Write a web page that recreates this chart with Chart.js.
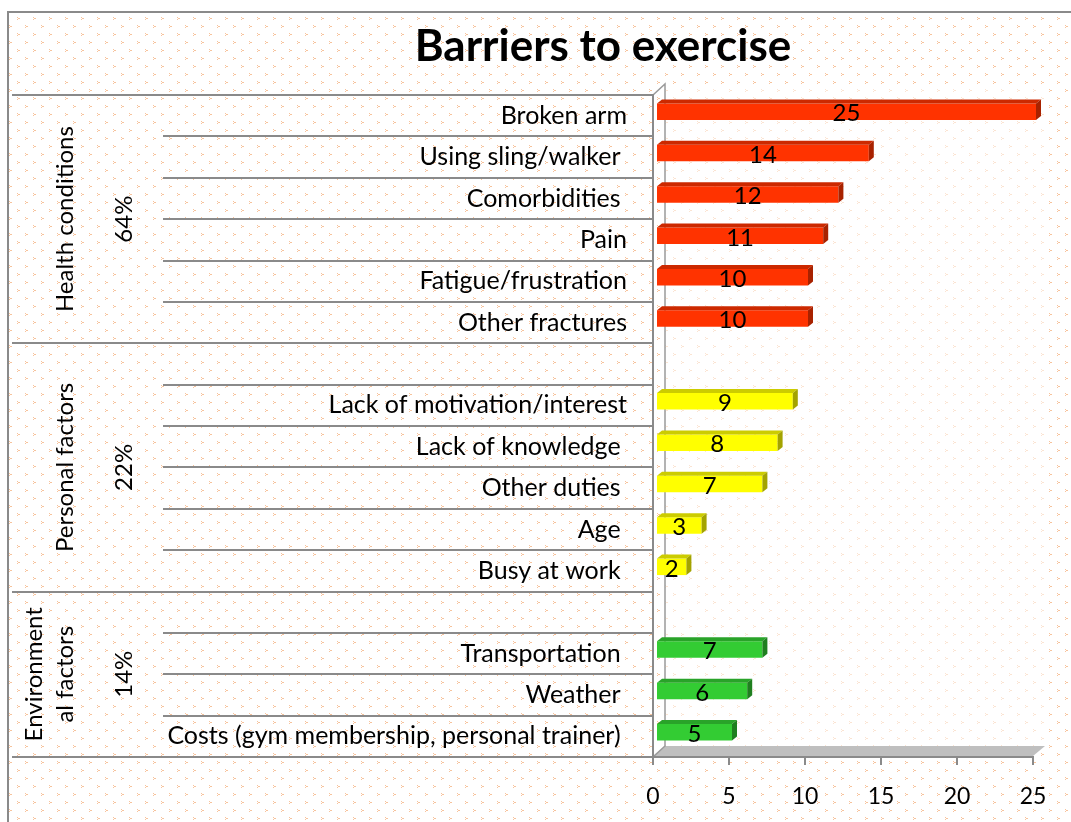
<!DOCTYPE html>
<html>
<head>
<meta charset="utf-8">
<title>Barriers to exercise</title>
<script src="https://cdn.jsdelivr.net/npm/chart.js@4.4.1/dist/chart.umd.min.js"></script>
<style>
  html, body { margin: 0; padding: 0; background: #fff; }
  #wrap { width: 1071px; height: 822px; }
</style>
</head>
<body>
<div id="wrap"><canvas id="chart" width="1071" height="822"></canvas></div>
<script>
// Chart data (blank rows separate the groups)
const titleText = 'Barriers to exercise';
const categories = [
    'Broken arm', 'Using sling/walker ', 'Comorbidities ', 'Pain', 'Fatigue/frustration', 'Other fractures',
    '',
    'Lack of motivation/interest', 'Lack of knowledge ', 'Other duties ', 'Age ', 'Busy at work ',
    '',
    'Transportation ', 'Weather ', 'Costs (gym membership, personal trainer) '
];
const healthValues = [25, 14, 12, 11, 10, 10, null, null, null, null, null, null, null, null, null, null];
const personalValues = [null, null, null, null, null, null, null, 9, 8, 7, 3, 2, null, null, null, null];
const environmentValues = [null, null, null, null, null, null, null, null, null, null, null, null, null, 7, 6, 5];
const xTicks = [0, 5, 10, 15, 20, 25];

// Left-hand table: group names, shares and the rows each group covers
const groupNames = [['Health conditions'], ['Personal factors'], ['Environment', 'al factors']];
const groupShares = ['64%', '22%', '14%'];
const groupFirstRow = [0, 6, 12];
const groupEndRow = [6, 12, 16];

const frontColors = ['#FF3300', '#FFFF00', '#33CC33'];
const topColors = ['#CC2900', '#CCCC00', '#29A329'];
const sideColors = ['#A82200', '#A3A300', '#1F7F1F'];

const FONT = 'Lato, "Open Sans", sans-serif';
const GRID = '#8a8a8a';
const BAR_SHIFT_X = 3, BAR_LIFT = 4;   // bars sit a little back from the axis (3D look)
const DEPTH_X = 5, DEPTH_Y = 4;

function makeTile() {
    const c = document.createElement('canvas');
    c.width = 16; c.height = 16;
    const t = c.getContext('2d');
    t.fillStyle = '#fff';
    t.fillRect(0, 0, 16, 16);
    t.fillStyle = '#F7C39C';
    [[1, 1], [9, 9]].forEach(function (p) {
        t.fillRect(p[0], p[1], 1, 1);
        t.fillRect(p[0] + 1, p[1] + 1, 2, 1);
        t.fillRect(p[0], p[1] + 2, 1, 1);
    });
    return c;
}

// Background pattern, frame, title and the 3D walls
const backdrop = {
    id: 'backdrop',
    beforeDraw(chart) {
        const ctx = chart.ctx;
        const a = chart.chartArea;
        ctx.save();
        ctx.fillStyle = '#fff';
        ctx.fillRect(0, 0, chart.width, chart.height);
        ctx.fillStyle = ctx.createPattern(makeTile(), 'repeat');
        ctx.fillRect(9, 13, chart.width - 9, chart.height - 13);

        ctx.strokeStyle = GRID;
        ctx.lineWidth = 2;
        ctx.beginPath();
        ctx.moveTo(8, chart.height);
        ctx.lineTo(8, 12);
        ctx.lineTo(chart.width, 12);
        ctx.stroke();

        ctx.fillStyle = '#000';
        ctx.font = 'bold 44px ' + FONT;
        ctx.textAlign = 'center';
        ctx.textBaseline = 'middle';
        ctx.fillText(titleText, 603, 47);

        // back wall
        const wx = 12, wy = 11;
        ctx.fillStyle = 'rgba(255,255,255,0.55)';
        ctx.fillRect(a.left + wx, a.top - wy, a.right - a.left, a.bottom - a.top);
        // floor
        ctx.fillStyle = '#BFBFBF';
        ctx.beginPath();
        ctx.moveTo(a.left, a.bottom - 1);
        ctx.lineTo(a.right, a.bottom - 1);
        ctx.lineTo(a.right + wx, a.bottom - wy);
        ctx.lineTo(a.left + wx, a.bottom - wy);
        ctx.closePath();
        ctx.fill();
        // side wall edges
        ctx.strokeStyle = '#9a9a9a';
        ctx.lineWidth = 1.5;
        ctx.beginPath();
        ctx.moveTo(a.left, a.top);
        ctx.lineTo(a.left + wx, a.top - wy);
        ctx.lineTo(a.left + wx, a.bottom - wy);
        ctx.lineTo(a.left, a.bottom);
        ctx.stroke();

        // table lines on the left
        const y = chart.scales.y;
        ctx.strokeStyle = GRID;
        ctx.lineWidth = 2;
        for (let k = 0; k <= categories.length; k++) {
            const py = Math.round(y.getPixelForValue(k - 0.5));
            const full = groupFirstRow.includes(k) || k === categories.length;
            ctx.beginPath();
            ctx.moveTo(full ? 12 : 163, py);
            ctx.lineTo(a.left, py);
            ctx.stroke();
        }

        // group names and shares, rotated
        ctx.fillStyle = '#000';
        ctx.font = '24px ' + FONT;
        ctx.textAlign = 'center';
        ctx.textBaseline = 'middle';
        groupNames.forEach(function (lines, g) {
            const y0 = y.getPixelForValue(groupFirstRow[g] - 0.5);
            const y1 = y.getPixelForValue(groupEndRow[g] - 0.5);
            const cy = (y0 + y1) / 2;
            const lineGap = 31;
            const firstX = 65 - (lines.length - 1) * lineGap;
            lines.forEach(function (txt, i) {
                ctx.save();
                ctx.translate(firstX + i * lineGap, cy);
                ctx.rotate(-Math.PI / 2);
                ctx.fillText(txt, 0, 0);
                ctx.restore();
            });
            ctx.save();
            ctx.translate(124, cy);
            ctx.rotate(-Math.PI / 2);
            ctx.fillText(groupShares[g], 0, 0);
            ctx.restore();
        });
        ctx.restore();
    },
    beforeDatasetsDraw(chart) {
        chart.ctx.save();
        chart.ctx.translate(BAR_SHIFT_X, -BAR_LIFT);
    },
    afterDatasetsDraw(chart) {
        const ctx = chart.ctx;
        chart.data.datasets.forEach(function (ds, d) {
            const meta = chart.getDatasetMeta(d);
            meta.data.forEach(function (bar, i) {
                if (ds.data[i] === null) return;
                const p = bar.getProps(['x', 'y', 'base', 'height'], true);
                const t = p.y - p.height / 2, b = p.y + p.height / 2;
                ctx.fillStyle = topColors[d];
                ctx.beginPath();
                ctx.moveTo(p.base, t);
                ctx.lineTo(p.x, t);
                ctx.lineTo(p.x + DEPTH_X, t - DEPTH_Y);
                ctx.lineTo(p.base + DEPTH_X, t - DEPTH_Y);
                ctx.closePath();
                ctx.fill();
                ctx.fillStyle = sideColors[d];
                ctx.beginPath();
                ctx.moveTo(p.x, t);
                ctx.lineTo(p.x + DEPTH_X, t - DEPTH_Y);
                ctx.lineTo(p.x + DEPTH_X, b - DEPTH_Y);
                ctx.lineTo(p.x, b);
                ctx.closePath();
                ctx.fill();

                ctx.fillStyle = '#000';
                ctx.font = '24px ' + FONT;
                ctx.textAlign = 'center';
                ctx.textBaseline = 'middle';
                ctx.fillText(String(ds.data[i]), (p.base + p.x) / 2, p.y + 2);
            });
        });
        ctx.restore();
    }
};

const ctx = document.getElementById('chart').getContext('2d');
const barriersChart = new Chart(ctx, {
    type: 'bar',
    data: {
        labels: categories,
        datasets: [
            { label: 'Health conditions', data: healthValues, backgroundColor: frontColors[0] },
            { label: 'Personal factors', data: personalValues, backgroundColor: frontColors[1] },
            { label: 'Environmental factors', data: environmentValues, backgroundColor: frontColors[2] }
        ]
    },
    options: {
        indexAxis: 'y',
        responsive: false,
        animation: false,
        layout: { padding: { top: 95, right: 38, left: 0, bottom: 0 } },
        datasets: {
            bar: { barPercentage: 0.4, categoryPercentage: 1.0, borderWidth: 0 }
        },
        plugins: {
            legend: { display: false },
            tooltip: { enabled: false },
            title: { display: false }
        },
        scales: {
            x: {
                stacked: true,
                min: 0,
                max: 25,
                afterBuildTicks: function (scale) {
                    scale.ticks = xTicks.map(function (v) { return { value: v }; });
                },
                afterFit: function (scale) { scale.height = 65; },
                grid: { drawOnChartArea: false, drawTicks: true, tickLength: 8, color: GRID, lineWidth: 2 },
                border: { color: GRID, width: 2 },
                ticks: { color: '#000', font: { family: FONT, size: 23 }, padding: 18 }
            },
            y: {
                stacked: true,
                afterFit: function (scale) { scale.width = 653; },
                grid: { display: false },
                border: { color: GRID, width: 2 },
                ticks: { color: '#000', font: { family: FONT, size: 25 }, padding: 18, autoSkip: false }
            }
        }
    },
    plugins: [backdrop]
});
</script>
</body>
</html>
